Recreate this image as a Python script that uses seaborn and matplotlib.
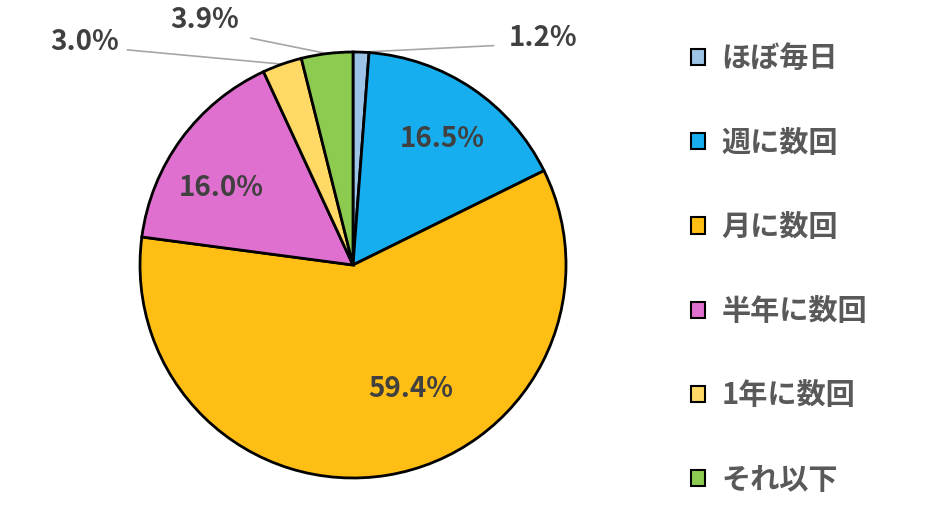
import numpy as np
import seaborn as sns
import matplotlib.pyplot as plt
from matplotlib.patches import Patch

sns.set_style("white")
plt.rcParams['font.family'] = ['Noto Sans CJK JP', 'DejaVu Sans']

# データ
categories = ['ほぼ毎日', '週に数回', '月に数回', '半年に数回', '1年に数回', 'それ以下']
shares = [1.2, 16.5, 59.4, 16.0, 3.0, 3.9]
colors = ['#9DC3E6', '#17AEEF', '#FFBE14', '#E070CF', '#FFD966', '#8CCB50']

# ラベル位置 (円の半径=1 の座標)
inside_pos = {1: (0.42, 0.59), 2: (0.27, -0.58), 3: (-0.62, 0.36)}
outside_pos = {0: (0.892, 1.066), 5: (-0.695, 1.150), 4: (-1.258, 1.047)}
line_start = {0: (0.66, 1.030), 5: (-0.48, 1.065), 4: (-1.06, 1.010)}

fig = plt.figure(figsize=(9.29, 5.23), dpi=100)
ax = fig.add_axes([140 / 929, 45 / 523, 426 / 929, 426 / 523])

wedges, _ = ax.pie(shares, colors=colors, startangle=90, counterclock=False,
                   wedgeprops=dict(edgecolor='black', linewidth=2))
ax.set_xlim(-1, 1)
ax.set_ylim(-1, 1)
ax.set_aspect('equal')

txt_color = '#404040'
for i, w in enumerate(wedges):
    label = f'{shares[i]:.1f}%'
    if i in inside_pos:
        ax.text(*inside_pos[i], label, ha='center', va='center', fontsize=20,
                fontweight='bold', color=txt_color)
    else:
        mid = np.deg2rad((w.theta1 + w.theta2) / 2)
        edge = (np.cos(mid), np.sin(mid))
        sx, sy = line_start[i]
        ax.plot([sx, edge[0]], [sy, edge[1]], color='#A6A6A6', lw=1.2,
                clip_on=False, zorder=0)
        ax.text(*outside_pos[i], label, ha='center', va='center', fontsize=20,
                fontweight='bold', color=txt_color)

handles = [Patch(facecolor=c, edgecolor='black', linewidth=1.5) for c in colors]
leg = fig.legend(handles, categories, loc='upper left',
                 bbox_to_anchor=(668 / 929, 1 - 20 / 523), frameon=False,
                 fontsize=21, labelspacing=1.86, handlelength=0.48,
                 handleheight=0.48, handletextpad=0.55, borderpad=0.3)
for t in leg.get_texts():
    t.set_color('#595959')
    t.set_fontweight('bold')

fig.savefig('out.png', dpi=100, facecolor='white')
